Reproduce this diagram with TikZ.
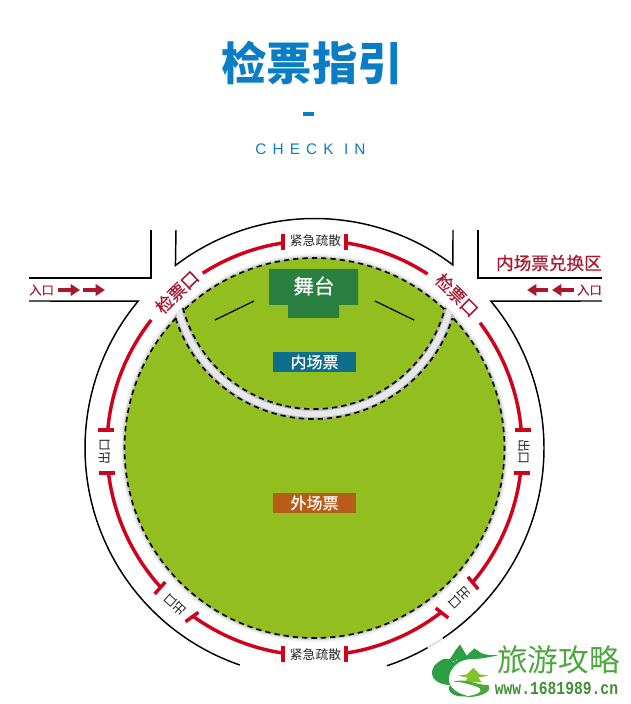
\documentclass[tikz,border=0pt]{standalone}
\usepackage{fontspec}
\setmainfont{Liberation Sans}
\newfontfamily\cjkfont{Noto Sans CJK SC}
\newfontfamily\cjkmedium[FakeBold=0.5]{Noto Sans CJK SC}
\newfontfamily\spacedfont[LetterSpace=40]{Liberation Sans}
\newfontfamily\urlfont{Liberation Mono}
\usetikzlibrary{arrows.meta}
\definecolor{titleblue}{HTML}{0A7DC4}
\definecolor{gatered}{HTML}{D0021B}
\definecolor{labelred}{HTML}{A8172F}
\definecolor{fieldgreen}{HTML}{92BE20}
\definecolor{stagegreen}{HTML}{2A8040}
\definecolor{innerteal}{HTML}{0E6F8C}
\definecolor{outerbrown}{HTML}{B85C1A}
\definecolor{markgreen}{HTML}{4CA83C}
\definecolor{markdark}{HTML}{2E9E45}
\tikzset{
x=0.75pt,
y=0.75pt,
road/.style={black, line width=1.1pt, line join=miter},
gate/.style={gatered, line width=2.6pt},
dash line/.style={black, line width=1.2pt, dash pattern=on 4pt off 3pt},
walk/.style={labelred, line width=2.8pt, -{Triangle[length=7pt,width=8.5pt]}},
small text/.style={font=\cjkfont\fontsize{9.6}{10}\selectfont, inner sep=0pt, black!85},
gate text/.style={font=\cjkmedium\fontsize{13}{14}\selectfont, inner sep=0pt, labelred},
entry text/.style={font=\cjkmedium\fontsize{9.2}{10}\selectfont, inner sep=0pt, labelred},
ticket/.style={minimum width=62.25pt, minimum height=15pt, inner sep=0pt, text=white, font=\cjkmedium\fontsize{12}{13}\selectfont},
}
\begin{document}
\begin{tikzpicture}
\useasboundingbox (0,0) rectangle (631,704);
\coordinate (ctr) at (314.5,256);
\coordinate (lens) at (314,430.5);

% title
\node[text=titleblue, inner sep=0pt, font=\cjkfont\bfseries\fontsize{34}{36}\selectfont] (title) at (312,641) {检票指引};
\node[fill=titleblue, minimum width=8.5pt, minimum height=3.5pt, inner sep=0pt] (titlebar) at (308.5,590) {};
\node[text=titleblue, inner sep=0pt, font=\spacedfont\fontsize{11.5}{12}\selectfont] (checkin) at (310.5,555) {CHECK IN};

% field
\fill[black!6] (ctr) circle[radius=194];
\fill[black!18] (ctr) circle[radius=192];
\fill[fieldgreen] (ctr) circle[radius=190];
\begin{scope}
\clip (ctr) circle[radius=192.5];
\draw[black!28, line width=8pt] (lens) circle[radius=140.5];
\draw[black!9, line width=4.5pt] (lens) circle[radius=140.5];
\end{scope}
\draw[dash line] ([shift={(47:190)}]ctr) arc[start angle=47, end angle=133.2, radius=190];
\draw[dash line] ([shift={(136.8:190)}]ctr) arc[start angle=136.8, end angle=403.2, radius=190];
\draw[dash line] ([shift={(194.75:135.5)}]lens) arc[start angle=194.75, end angle=345.25, radius=135.5];
\draw[dash line] ([shift={(197.9:145.5)}]lens) arc[start angle=197.9, end angle=342.1, radius=145.5];

% roads
\coordinate (lefttop) at (151,474);
\coordinate (leftmid) at (151,426);
\coordinate (leftend) at (29,426);
\coordinate (leftlow) at (29,403);
\coordinate (righttop) at (478,474);
\coordinate (rightmid) at (478,426);
\coordinate (rightend) at (602,426);
\coordinate (rightlow) at (602,403);
\draw[road] (lefttop) -- (leftmid) -- (leftend);
\draw[road] (righttop) -- (rightmid) -- (rightend);
\draw[road] (176,474) -- ([shift={(127.3:229.5)}]ctr) arc[start angle=127.3, end angle=52.9, radius=229.5] -- (453,474);
\draw[road] (leftlow) -- ([shift={(140.2:229.5)}]ctr) arc[start angle=140.2, end angle=251, radius=229.5];
\draw[road] (rightlow) -- ([shift={(39.8:229.5)}]ctr) arc[start angle=39.8, end angle=-56, radius=229.5];
\draw[black!15, line width=1.1pt] ([shift={(-56:229.5)}]ctr) arc[start angle=-56, end angle=-60.5, radius=229.5];
\draw[road] ([shift={(-60.5:229.5)}]ctr) arc[start angle=-60.5, end angle=-71.6, radius=229.5];

% gates
\foreach \from/\to in {122.6/98.7, 57/81.3, 141.9/175, 37.1/5, 186.9/222.2, 261.3/234, 278.6/307.7, 353/319.6}
  \draw[gate] ([shift={(\from:207.5)}]ctr) arc[start angle=\from, end angle=\to, radius=207.5];
\foreach \x/\y in {283/462, 346/462, 283/50, 346/50}
  \draw[gate] (\x,\y-8) -- (\x,\y+8);
\foreach \x/\y in {106/274, 523/274, 107/231, 522/231}
  \draw[gate] (\x-8,\y) -- (\x+8,\y);
\foreach \x/\y/\a in {160/116/-42, 192/87/-54, 442/91/52, 473/121/40}
  \draw[gate, rotate around={\a:(\x,\y)}] (\x,\y-8) -- (\x,\y+8);

% gate labels
\node[gate text, rotate=44] (gateleft) at (177,412) {检票口};
\node[gate text, rotate=-45] (gateright) at (457,409) {检票口};
\node[small text] (escapetop) at (315.5,463) {紧急疏散};
\node[small text] (escapelow) at (315.5,49) {紧急疏散};
\node[small text, rotate=90] (exitleft) at (105,252) {出口};
\node[small text, rotate=-90] (exitright) at (524,252) {出口};
\node[small text, rotate=138] (exitlowleft) at (175,99) {出口};
\node[small text, rotate=224] (exitlowright) at (460,106) {出口};

% stage
\fill[stagegreen] (269,435) -- (358,435) -- (358,399) -- (339,399) -- (339,386) -- (288,386) -- (288,399) -- (269,399) -- cycle;
\node[text=white, inner sep=0pt, font=\cjkmedium\fontsize{15.4}{16}\selectfont] (stage) at (314,418) {舞台};
\draw[black, line width=.9pt] (215,384) -- (254,403);
\draw[black, line width=.9pt] (375,403) -- (414,384);
\node[ticket, fill=innerteal] (innerticket) at (314.5,342) {内场票};
\node[ticket, fill=outerbrown] (outerticket) at (314.5,201) {外场票};

% entrances
\node[entry text, anchor=west] (entryleft) at (29,414) {入口};
\coordinate (walkone) at (58,414);
\coordinate (walktwo) at (80,414);
\coordinate (walkthree) at (83,414);
\coordinate (walkfour) at (105,414);
\draw[walk] (walkone) -- (walktwo);
\draw[walk] (walkthree) -- (walkfour);
\node[entry text, anchor=east] (entryright) at (602,414) {入口};
\coordinate (backone) at (574,414);
\coordinate (backtwo) at (552,414);
\coordinate (backthree) at (548,414);
\coordinate (backfour) at (527,414);
\draw[walk] (backone) -- (backtwo);
\draw[walk] (backthree) -- (backfour);
\node[gate text, anchor=east, font=\cjkmedium\fontsize{13.2}{14}\selectfont] (exchange) at (602,441) {内场票兑换区};

% site mark
\begin{scope}[shift={(425,69)}, x=.25pt, y=-.25pt]
\fill[markdark] (75,150) .. controls (40,150) and (15,130) .. (22,105) .. controls (28,85) and (45,78) .. (55,72) -- (75,72) -- (92,45) -- (105,28) -- (118,50) -- (125,62) -- (148,40) -- (170,55) .. controls (190,62) and (205,60) .. (222,60) .. controls (190,68) and (165,72) .. (140,72) .. controls (105,72) and (78,95) .. (72,125) .. controls (68,150) and (85,172) .. (125,182) .. controls (100,190) and (60,175) .. (75,150) -- cycle;
\fill[white] (85,80) circle[radius=2] (95,75) circle[radius=2] (105,82) circle[radius=2];
\fill[markgreen!70!yellow] (145,98) -- (165,118) -- (190,122) -- (160,128) -- (170,142) -- (120,142) -- (128,128) -- (100,122) -- (125,118) -- cycle;
\fill[markgreen] (85,140) .. controls (120,128) and (150,150) .. (190,150) .. controls (205,170) and (165,190) .. (115,185) .. controls (150,182) and (175,172) .. (165,160) .. controls (145,150) and (110,140) .. (85,140) -- cycle;
\end{scope}
\node[text=markgreen, inner sep=0pt, font=\cjkfont\fontsize{23}{24}\selectfont] (markname) at (558.5,44) {旅游攻略};
\node[text=markgreen!85!black, inner sep=0pt, yscale=1.25, font=\urlfont\bfseries\fontsize{11}{12}\selectfont] (markurl) at (556.5,16) {www.1681989.cn};
\end{tikzpicture}
\end{document}
